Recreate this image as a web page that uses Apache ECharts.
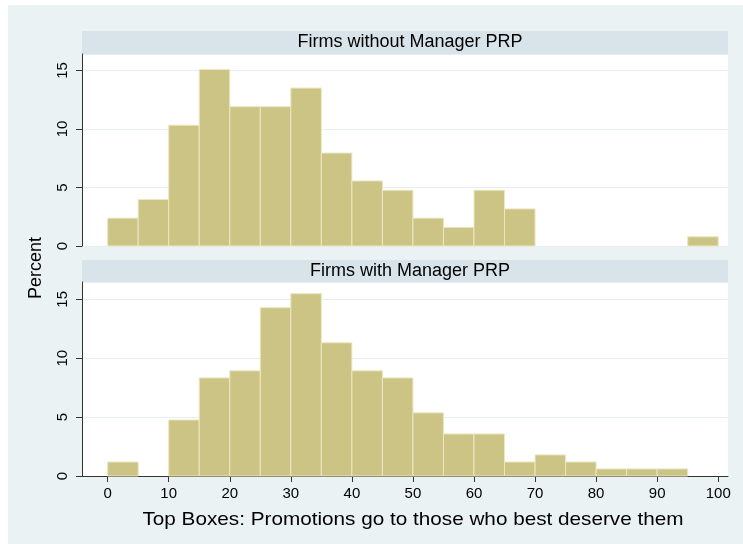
<!DOCTYPE html>
<html>
<head>
<meta charset="utf-8">
<script src="https://cdn.jsdelivr.net/npm/echarts@6/dist/echarts.min.js"></script>
<style>html,body{margin:0;padding:0;background:#fff}#c{width:743px;height:544px}</style>
</head>
<body>
<div id="c"></div>
<script>
// Bin starts (width 5)
const binStarts = [0,5,10,15,20,25,30,35,40,45,50,55,60,65,70,75,80,85,90,95];
const binWidth = 5;
// Percent per bin
const withoutPRP = [2.38,3.97,10.32,15.08,11.90,11.90,13.49,7.94,5.56,4.76,2.38,1.59,4.76,3.17,0,0,0,0,0,0.79];
const withPRP    = [1.19,0,4.76,8.33,8.93,14.29,15.48,11.31,8.93,8.33,5.36,3.57,3.57,1.19,1.79,1.19,0.60,0.60,0.60,0];
const xTicks = [0,10,20,30,40,50,60,70,80,90,100];
const panelTitles = ['Firms without Manager PRP','Firms with Manager PRP'];
const xTitle = 'Top Boxes: Promotions go to those who best deserve them';
const yTitle = 'Percent';

const FONT = 'Liberation Sans, Arial, sans-serif';
const AX = '#333333';
const FILL = '#ccc484';
const EDGE = '#ebe7c4';

function toData(vals){
  return vals.map((v,i)=>[binStarts[i], binStarts[i]+binWidth, v]).filter(d=>d[2]>0);
}
function renderItem(params, api){
  const p0 = api.coord([api.value(0), api.value(2)]);
  const p1 = api.coord([api.value(1), 0]);
  return {type:'rect', shape:{x:p0[0], y:p0[1], width:p1[0]-p0[0], height:p1[1]-p0[1]},
    style:{fill:FILL, stroke:EDGE, lineWidth:1}};
}
function xAxis(idx, show){
  return {type:'value', gridIndex:idx, min:-4.2, max:101.6,
    axisLine:{show:show, onZero:false, lineStyle:{color:AX, width:1}},
    axisTick:{show:show, length:6, customValues:xTicks, lineStyle:{color:AX}},
    axisLabel:{show:show, customValues:xTicks, margin:10, fontSize:15, color:'#000', fontFamily:FONT},
    splitLine:{show:false}
  };
}
function yAxis(idx, max){
  return {type:'value', gridIndex:idx, min:0, max:max, interval:5,
    axisLine:{show:true, onZero:false, lineStyle:{color:AX, width:1}},
    axisTick:{show:true, length:6, lineStyle:{color:AX}},
    axisLabel:{rotate:90, margin:12, fontSize:15, color:'#000', fontFamily:FONT,
      showMaxLabel:false},
    splitLine:{show:true, lineStyle:{color:'#e6eef1', width:1}}
  };
}

const chart = echarts.init(document.getElementById('c'), null, {renderer:'canvas'});
chart.setOption({
  backgroundColor:'#ffffff',
  animation:false,
  graphic:[
    {type:'rect', z:-10, shape:{x:8,y:5,width:735,height:539}, style:{fill:'#eaf2f3'}, silent:true},
    {type:'rect', z:-5, shape:{x:82,y:31,width:646,height:23}, style:{fill:'#d8e4ea'}, silent:true},
    {type:'rect', z:-5, shape:{x:82,y:260,width:646,height:22}, style:{fill:'#d8e4ea'}, silent:true},
    {type:'text', x:410, y:42.5, style:{text:panelTitles[0], fill:'#000', font:'18px '+FONT, textAlign:'center', textVerticalAlign:'middle'}},
    {type:'text', x:410, y:271, style:{text:panelTitles[1], fill:'#000', font:'18px '+FONT, textAlign:'center', textVerticalAlign:'middle'}},
    {type:'text', x:36, y:268, rotation:Math.PI/2, style:{text:yTitle, fill:'#000', font:'18px '+FONT, textAlign:'center', textVerticalAlign:'middle'}},
    {type:'text', x:413, y:520, scaleX:1.09, style:{text:xTitle, fill:'#000', font:'19px '+FONT, textAlign:'center', textVerticalAlign:'middle'}}
  ],
  grid:[
    {left:82, right:15, top:54, height:192, show:true, backgroundColor:'#ffffff', borderWidth:0},
    {left:82, right:15, top:282, height:194, show:true, backgroundColor:'#ffffff', borderWidth:0}
  ],
  xAxis:[xAxis(0,false), xAxis(1,true)],
  yAxis:[yAxis(0,16.4), yAxis(1,16.47)],
  series:[
    {type:'custom', xAxisIndex:0, yAxisIndex:0, renderItem:renderItem, data:toData(withoutPRP), encode:{x:[0,1], y:2}},
    {type:'custom', xAxisIndex:1, yAxisIndex:1, renderItem:renderItem, data:toData(withPRP), encode:{x:[0,1], y:2}}
  ]
});
</script>
</body>
</html>
